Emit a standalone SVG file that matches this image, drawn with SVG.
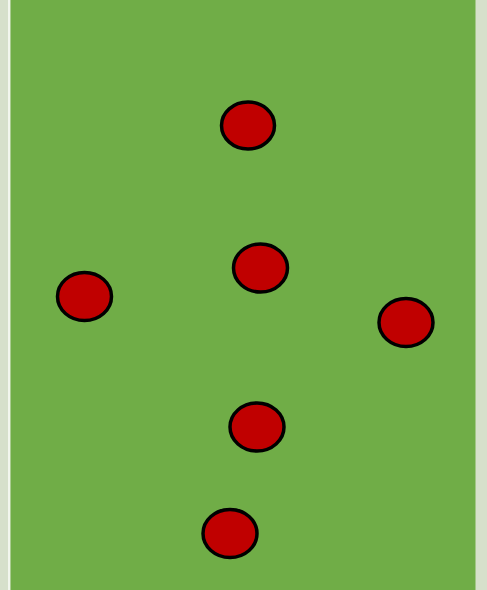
<svg xmlns="http://www.w3.org/2000/svg" width="487" height="590" viewBox="0 0 487 590">
<style>
.pl{fill:#c00000;stroke:#000;stroke-width:3.5}
</style>
<rect x="0" y="0" width="487" height="590" fill="#d6e0cb"/>
<rect x="8" y="0" width="2.5" height="590" fill="#f2f6ee"/>
<rect x="10.5" y="0" width="465" height="590" fill="#70ad47"/>
<g id="p1"><ellipse class="pl" cx="248" cy="125.5" rx="26.5" ry="23.5"/></g>
<g id="p2"><ellipse class="pl" cx="260.5" cy="268" rx="27" ry="24"/></g>
<g id="p3"><ellipse class="pl" cx="84.5" cy="296.5" rx="27" ry="24"/></g>
<g id="p4"><ellipse class="pl" cx="406" cy="322.5" rx="27" ry="24"/></g>
<g id="p5"><ellipse class="pl" cx="257" cy="427" rx="27" ry="24"/></g>
<g id="p6"><ellipse class="pl" cx="230" cy="533.5" rx="27" ry="24"/></g>
</svg>
